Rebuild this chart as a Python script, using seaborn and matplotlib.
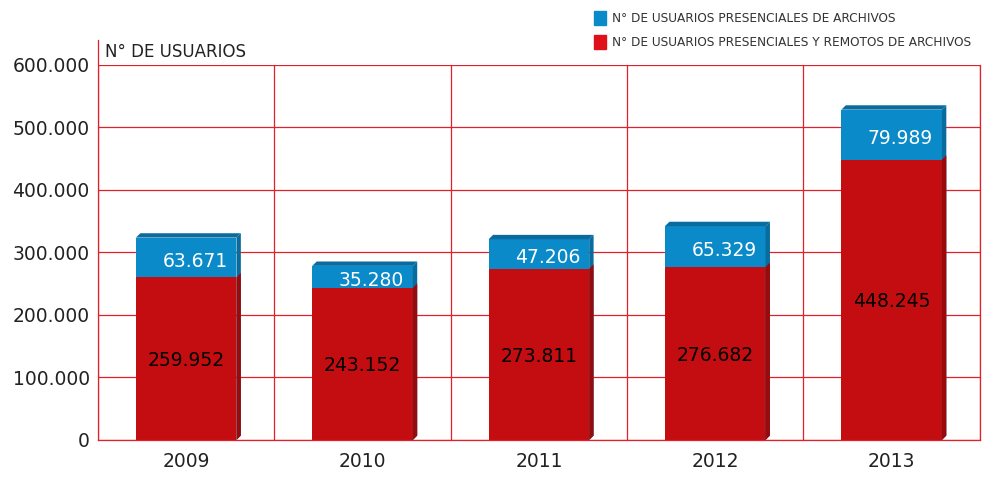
import matplotlib
matplotlib.use("Agg")
import matplotlib.pyplot as plt
import pandas as pd
import seaborn as sns
from matplotlib.patches import Polygon, Patch
from matplotlib.ticker import FuncFormatter

years = ["2009", "2010", "2011", "2012", "2013"]
remotos = [259952, 243152, 273811, 276682, 448245]
presenciales = [63671, 35280, 47206, 65329, 79989]

RED = "#c40d10"
RED_SIDE = "#9a0a0c"
BLUE = "#0a8ac8"
BLUE_TOP = "#0a6c9e"
GRID = "#e0202a"

df = pd.DataFrame({"year": years, "remotos": remotos, "presenciales": presenciales})
df["total"] = df["remotos"] + df["presenciales"]

sns.set_style("white")
plt.rcParams["font.family"] = ["DejaVu Sans"]

fig = plt.figure(figsize=(9.82, 4.78), dpi=100)
ax = fig.add_axes([0.0998, 0.0795, 0.898, 0.785])

sns.barplot(data=df, x="year", y="total", color=BLUE, saturation=1, width=0.57,
            linewidth=0, ax=ax)
sns.barplot(data=df, x="year", y="remotos", color=RED, saturation=1, width=0.57,
            linewidth=0, ax=ax)

ax.set_ylim(0, 600000)
ax.set_xlim(-0.5, 4.5)

# pseudo 3d faces built from the bar patches
dx, dy = 0.025, 7000
n = len(years)
for i, p in enumerate(list(ax.patches)):
    x0, w, h = p.get_x(), p.get_width(), p.get_height()
    x1 = x0 + w
    side = Polygon([(x1, 0), (x1 + dx, dy), (x1 + dx, h + dy), (x1, h)],
                   closed=True, color=RED_SIDE if i >= n else BLUE_TOP,
                   zorder=p.get_zorder(), lw=0)
    ax.add_patch(side)
    if i < n:
        top = Polygon([(x0, h), (x0 + dx, h + dy), (x1 + dx, h + dy), (x1, h)],
                      closed=True, color=BLUE_TOP, zorder=p.get_zorder(), lw=0)
        ax.add_patch(top)

fmt = lambda v: f"{v:,.0f}".replace(",", ".")
for i in range(n):
    ax.text(i + 0.05, df["remotos"][i] + df["presenciales"][i] / 2 - 6000,
            fmt(df["presenciales"][i]),
            ha="center", va="center", color="white", fontsize=13.5, zorder=5)
    ax.text(i, df["remotos"][i] / 2 - 3000, fmt(df["remotos"][i]),
            ha="center", va="center", color="black", fontsize=13.5, zorder=5)

ax.set_yticks(range(0, 600001, 100000))
ax.yaxis.set_major_formatter(FuncFormatter(lambda v, _: fmt(v)))
ax.set_xticks(range(n))
ax.set_xticklabels(years)
ax.set_xticks([i + 0.5 for i in range(-1, n)], minor=True)
ax.tick_params(axis="both", which="major", labelsize=13.5, length=0, colors="#222222")
ax.tick_params(axis="x", which="minor", length=0)
ax.tick_params(axis="y", pad=6)
ax.tick_params(axis="x", pad=9)

ax.set_axisbelow(True)
ax.grid(axis="y", which="major", color=GRID, lw=0.9)
ax.grid(axis="x", which="minor", color=GRID, lw=0.9)
ax.grid(axis="x", which="major", visible=False)
for s in ["left", "bottom", "right"]:
    ax.spines[s].set_color(GRID)
    ax.spines[s].set_linewidth(0.9)
ax.spines["top"].set_visible(False)
ax.spines["left"].set_bounds(0, 640000)
ax.set_xlabel("")
ax.set_ylabel("")

fig.text(0.107, 0.891, "N° DE USUARIOS", fontsize=12, color="#222222", va="center")

handles = [Patch(color=BLUE), Patch(color="#e0101a")]
labels = ["N° DE USUARIOS PRESENCIALES DE ARCHIVOS",
          "N° DE USUARIOS PRESENCIALES Y REMOTOS DE ARCHIVOS"]
fig.legend(handles, labels, loc="upper left", bbox_to_anchor=(0.594, 1.0), frameon=False,
           fontsize=8.7, handlelength=1.0, handleheight=1.45, handletextpad=0.45,
           labelspacing=0.8, labelcolor="#333333")

fig.savefig("out.png", dpi=100)
